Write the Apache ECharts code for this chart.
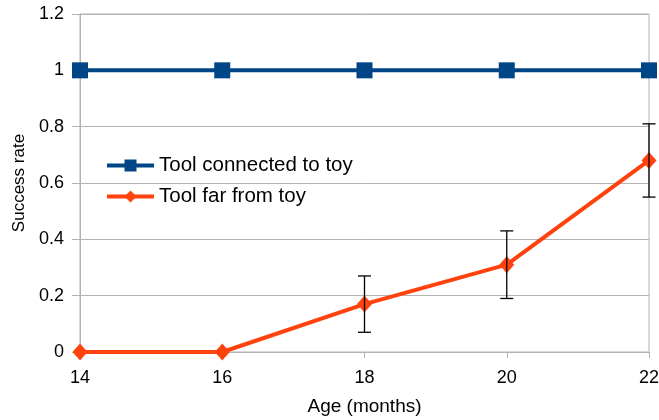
<!DOCTYPE html>
<html><head><meta charset="utf-8">
<script src="https://cdn.jsdelivr.net/npm/echarts@6/dist/echarts.min.js"></script>
<style>html,body{margin:0;padding:0;background:#fff}#c{width:659px;height:420px}</style>
</head><body><div id="c"></div>
<script>
const ages = ['14', '16', '18', '20', '22'];
const connected = [1, 1, 1, 1, 1];
const far = [0, 0, 0.17, 0.31, 0.68];
const farErrLow = [null, null, 0.07, 0.19, 0.55];
const farErrHigh = [null, null, 0.27, 0.43, 0.81];

const errData = ages.map((a, i) => [i, farErrLow[i], farErrHigh[i]]).filter(d => d[1] !== null);
const font = 'Liberation Sans, Arial, sans-serif';
const chart = echarts.init(document.getElementById('c'));
chart.setOption({
  animation: false,
  grid: {left: 80, right: 10, top: 14, bottom: 68, show: true, borderColor: '#b3b3b3', borderWidth: 1,
    containLabel: false, outerBoundsMode: 'none'},
  legend: {
    orient: 'vertical', left: 100, top: 150, itemWidth: 47, itemHeight: 15, itemGap: 10,
    textStyle: {fontFamily: font, fontSize: 20.5, color: '#000'},
    lineStyle: {width: 4},
    data: ['Tool connected to toy', 'Tool far from toy']
  },
  xAxis: {
    type: 'category', data: ages, boundaryGap: false,
    name: 'Age (months)', nameLocation: 'middle', nameGap: 45,
    nameTextStyle: {fontFamily: font, fontSize: 19, color: '#000'},
    axisLine: {lineStyle: {color: '#b3b3b3'}},
    axisTick: {show: true, length: 6, lineStyle: {color: '#b3b3b3'}},
    axisLabel: {fontFamily: font, fontSize: 18, color: '#000', margin: 17},
    splitLine: {show: false}
  },
  yAxis: {
    type: 'value', min: 0, max: 1.2, interval: 0.2,
    name: 'Success rate', nameLocation: 'middle', nameGap: 50,
    nameTextStyle: {fontFamily: font, fontSize: 17, color: '#000'},
    axisLine: {show: true, lineStyle: {color: '#b3b3b3'}},
    axisTick: {show: true, length: 8, lineStyle: {color: '#b3b3b3'}},
    axisLabel: {fontFamily: font, fontSize: 18, color: '#000', margin: 16,
      formatter: v => String(Math.round(v * 10) / 10)},
    splitLine: {lineStyle: {color: '#b3b3b3'}}
  },
  series: [
    {
      name: 'Tool connected to toy', type: 'line', data: connected,
      color: '#004586', symbol: 'rect', symbolSize: 16,
      lineStyle: {width: 4, color: '#004586'}, itemStyle: {color: '#004586'}, z: 3
    },
    {
      name: 'Tool far from toy', type: 'line', data: far,
      color: '#ff420e', symbol: 'diamond', symbolSize: [15, 17],
      lineStyle: {width: 4, color: '#ff420e'}, itemStyle: {color: '#ff420e'}, z: 3
    },
    {
      type: 'custom', data: errData, z: 4,
      renderItem: (params, api) => {
        const x = api.value(0);
        const lo = api.coord([x, api.value(1)]);
        const hi = api.coord([x, api.value(2)]);
        const w = 6.5;
        const st = {stroke: '#000', lineWidth: 1.3};
        return {type: 'group', children: [
          {type: 'line', shape: {x1: lo[0], y1: lo[1], x2: hi[0], y2: hi[1]}, style: st},
          {type: 'line', shape: {x1: lo[0] - w, y1: lo[1], x2: lo[0] + w, y2: lo[1]}, style: st},
          {type: 'line', shape: {x1: hi[0] - w, y1: hi[1], x2: hi[0] + w, y2: hi[1]}, style: st}
        ]};
      }
    }
  ]
});
</script></body></html>
